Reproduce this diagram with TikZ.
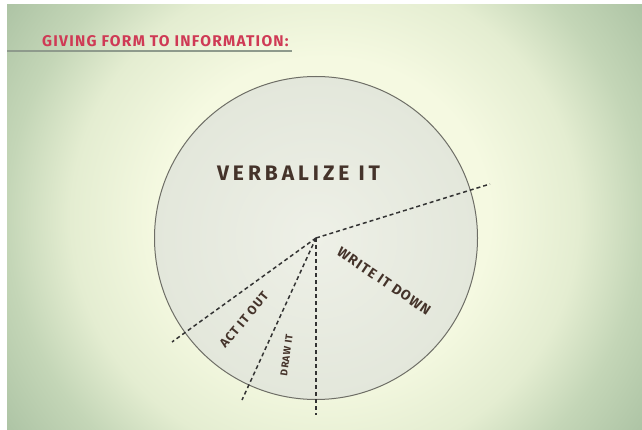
\documentclass[tikz,border=0pt]{standalone}
\usepackage{fontspec}
\setmainfont{Fira Sans}
\newfontfamily\signfont{Fira Sans}[LetterSpace=8]
\definecolor{bgmid}{HTML}{F5F9E1}
\definecolor{bghalf}{HTML}{E4EDD1}
\definecolor{bgrim}{HTML}{C4D6B7}
\definecolor{bgedge}{HTML}{ABC2A3}
\definecolor{discin}{HTML}{EEF0E7}
\definecolor{discout}{HTML}{E3E7DB}
\definecolor{rimgray}{HTML}{6E6E66}
\definecolor{inkbrown}{HTML}{44332A}
\definecolor{titlered}{HTML}{CF3A55}
\definecolor{rulegray}{HTML}{8E9A8C}
% path box maps to the inner 50bp square, so 25bp is the half width
\pgfdeclareradialshading{backglow}{\pgfpoint{0bp}{0bp}}{%
  color(0bp)=(bgmid); color(13bp)=(bgmid); color(20bp)=(bghalf); color(25bp)=(bgrim); color(31bp)=(bgedge); color(50bp)=(bgedge)}
\tikzset{
  cutline/.style={line width=1.5pt,dash pattern=on 4pt off 3pt,draw=black!80},
  mode/.style={text=inkbrown,inner sep=0pt}
}
\begin{document}
\begin{tikzpicture}[x=1pt,y=-1pt]
  \useasboundingbox (0,0) rectangle (642,430);
  \fill[white] (0,0) rectangle (642,430);
  \begin{scope}
    \clip (7,5) rectangle (642,430);
    \shade[shading=backglow] (7,-90) rectangle (642,525);
  \end{scope}
  % heading with its rule
  \draw[rulegray,line width=2pt] (7,51) -- (292,51);
  \node[anchor=west,text=titlered,font=\signfont\bfseries\fontsize{15.5}{17}\selectfont,inner sep=0pt] (head) at (42,41) {GIVING FORM TO INFORMATION:};
  % the disc and its cuts
  \coordinate (hub) at (316,238);
  \shade[inner color=discin,outer color=discout,draw=rimgray,line width=1pt] (hub) circle[radius=161.5pt];
  \coordinate (e1) at (490,184);
  \coordinate (e2) at (172,342);
  \coordinate (e3) at (242,400);
  \coordinate (e4) at (316,415);
  \foreach \e in {e1,e2,e3,e4}
    \draw[cutline] (hub) -- (\e);
  \node[mode,font=\signfont\addfontfeatures{LetterSpace=19}\bfseries\fontsize{21}{23}\selectfont] (verbal) at (298.5,173.5) {VERBALIZE IT};
  \node[mode,font=\signfont\bfseries\fontsize{14}{16}\selectfont,rotate=-34] (write) at (384,281) {WRITE IT DOWN};
  \node[mode,font=\signfont\bfseries\fontsize{12.5}{14}\selectfont,rotate=50] (act) at (244,320) {ACT IT OUT};
  \node[mode,font=\signfont\bfseries\fontsize{10}{12}\selectfont,rotate=82] (drawit) at (286.5,355) {DRAW IT};
\end{tikzpicture}
\end{document}
